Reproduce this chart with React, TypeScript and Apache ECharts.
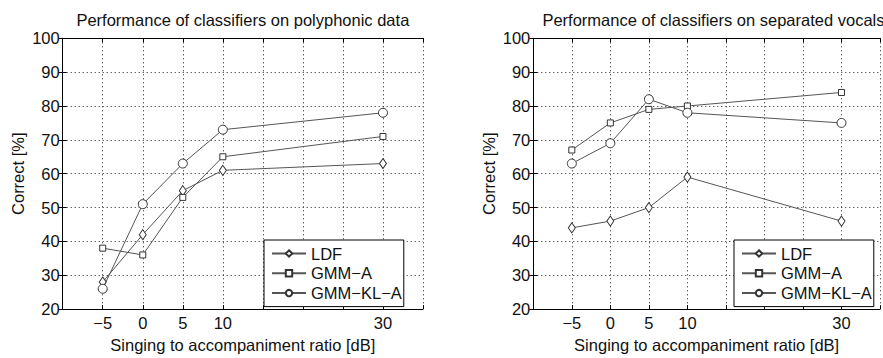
import React, { useEffect, useRef } from 'react';
import * as echarts from 'echarts';

// ---- data ----
const snrLabels = ['−5', '0', '5', '10', '30'];
// tick slot of each SNR value on the (non-uniform) x axis
const snrSlots = [1, 2, 3, 4, 8];
const xSlotMin = 0;
const xSlotMax = 9;

const seriesNames = ['LDF', 'GMM−A', 'GMM−KL−A'];

const polyLDF = [28, 42, 55, 61, 63];
const polyGMMA = [38, 36, 53, 65, 71];
const polyGMMKLA = [26, 51, 63, 73, 78];

const sepLDF = [44, 46, 50, 59, 46];
const sepGMMA = [67, 75, 79, 80, 84];
const sepGMMKLA = [63, 69, 82, 78, 75];

const yMin = 20;
const yMax = 100;
const yStep = 10;

const panelTitles = [
  'Performance of classifiers on polyphonic data',
  'Performance of classifiers on separated vocals',
];
const xAxisName = 'Singing to accompaniment ratio [dB]';
const yAxisName = 'Correct [%]';

// ---- styling ----
const FONT = 'Liberation Sans';
const TXT = '#111';
const LINE = '#555';
const MARK = '#333';
const FS = 16.5;

const grids = [
  { left: 62.7, top: 38.3, width: 360.3, height: 281 },
  { left: 533.3, top: 38.3, width: 360.3, height: 281 },
];

const symbols: Record<string, { symbol: string; size: any }> = {
  'LDF': { symbol: 'diamond', size: [7, 10] },
  'GMM−A': { symbol: 'rect', size: 6 },
  'GMM−KL−A': { symbol: 'circle', size: 9 },
};

function pairs(values: number[]) {
  return values.map((v, i) => [snrSlots[i], v]);
}

export default function App() {
  const ref = useRef<HTMLDivElement>(null);

  useEffect(() => {
    document.body.style.margin = '0';
    if (!ref.current) return;
    const chart = echarts.init(ref.current, null, { renderer: 'svg' });

    const xLabel = (v: number) => {
      const i = snrSlots.indexOf(Math.round(v));
      return i >= 0 ? snrLabels[i] : '';
    };

    const xAxes: any[] = [];
    const yAxes: any[] = [];
    grids.forEach((_, gi) => {
      xAxes.push({
        type: 'value',
        gridIndex: gi,
        min: xSlotMin,
        max: xSlotMax,
        interval: 1,
        position: 'bottom',
        name: xAxisName,
        nameLocation: 'middle',
        nameGap: 22,
        nameTextStyle: { fontFamily: FONT, fontSize: FS, color: TXT },
        axisLine: { show: true, lineStyle: { color: '#000', width: 1 } },
        axisTick: { show: true, inside: true, length: 4, lineStyle: { color: '#000' } },
        axisLabel: {
          show: true,
          formatter: xLabel,
          margin: 5,
          fontFamily: FONT,
          fontSize: FS,
          color: TXT,
          showMinLabel: true,
          showMaxLabel: true,
        },
        splitLine: { show: true, lineStyle: { color: '#222', type: [1, 3], width: 1 } },
      });
      xAxes.push({
        type: 'value',
        gridIndex: gi,
        min: xSlotMin,
        max: xSlotMax,
        interval: 1,
        position: 'top',
        axisLine: { show: true, lineStyle: { color: '#000', width: 1 } },
        axisTick: { show: true, inside: true, length: 4, lineStyle: { color: '#000' } },
        axisLabel: { show: false },
        splitLine: { show: false },
      });
      yAxes.push({
        type: 'value',
        gridIndex: gi,
        min: yMin,
        max: yMax,
        interval: yStep,
        position: 'left',
        name: yAxisName,
        nameLocation: 'middle',
        nameGap: 36,
        nameTextStyle: { fontFamily: FONT, fontSize: FS, color: TXT },
        axisLine: { show: true, lineStyle: { color: '#000', width: 1 } },
        axisTick: { show: true, inside: true, length: 4, lineStyle: { color: '#000' } },
        axisLabel: { margin: 3, fontFamily: FONT, fontSize: FS, color: TXT },
        splitLine: { show: true, lineStyle: { color: '#222', type: [1, 3], width: 1 } },
      });
      yAxes.push({
        type: 'value',
        gridIndex: gi,
        min: yMin,
        max: yMax,
        interval: yStep,
        position: 'right',
        axisLine: { show: true, lineStyle: { color: '#000', width: 1 } },
        axisTick: { show: true, inside: true, length: 4, lineStyle: { color: '#000' } },
        axisLabel: { show: false },
        splitLine: { show: false },
      });
    });

    const panels = [
      [polyLDF, polyGMMA, polyGMMKLA],
      [sepLDF, sepGMMA, sepGMMKLA],
    ];
    const series: any[] = [];
    panels.forEach((sets, gi) => {
      sets.forEach((vals, si) => {
        const name = seriesNames[si];
        series.push({
          type: 'line',
          name,
          xAxisIndex: gi * 2,
          yAxisIndex: gi * 2,
          data: pairs(vals),
          symbol: symbols[name].symbol,
          symbolSize: symbols[name].size,
          showAllSymbol: true,
          lineStyle: { color: LINE, width: 1 },
          itemStyle: { color: '#fff', borderColor: MARK, borderWidth: 1 },
          emphasis: { disabled: true },
          z: 3,
        });
      });
    });

    const legends = [
      { left: 264, top: 240 },
      { left: 734, top: 240 },
    ].map((pos) => ({
      ...pos,
      orient: 'vertical',
      data: seriesNames,
      itemWidth: 34,
      itemHeight: 8,
      itemGap: 2.8,
      padding: [5, 2, 5, 7],
      backgroundColor: '#fff',
      borderColor: '#000',
      borderWidth: 1,
      borderRadius: 0,
      selectedMode: false,
      textStyle: { fontFamily: FONT, fontSize: FS, color: TXT, padding: [0, 0, 0, 0] },
    }));

    chart.setOption({
      animation: false,
      backgroundColor: '#fff',
      grid: grids.map((g) => ({ ...g, containLabel: false })),
      xAxis: xAxes,
      yAxis: yAxes,
      legend: legends,
      series,
      graphic: panelTitles.map((t, gi) => ({
        type: 'text',
        x: grids[gi].left + grids[gi].width / 2,
        y: 20,
        style: {
          text: t,
          fontFamily: FONT,
          fontSize: 16.5,
          fill: TXT,
          textAlign: 'center',
          textVerticalAlign: 'middle',
        },
      })),
    });

    return () => chart.dispose();
  }, []);

  return <div ref={ref} style={{ width: 883, height: 358 }} />;
}
